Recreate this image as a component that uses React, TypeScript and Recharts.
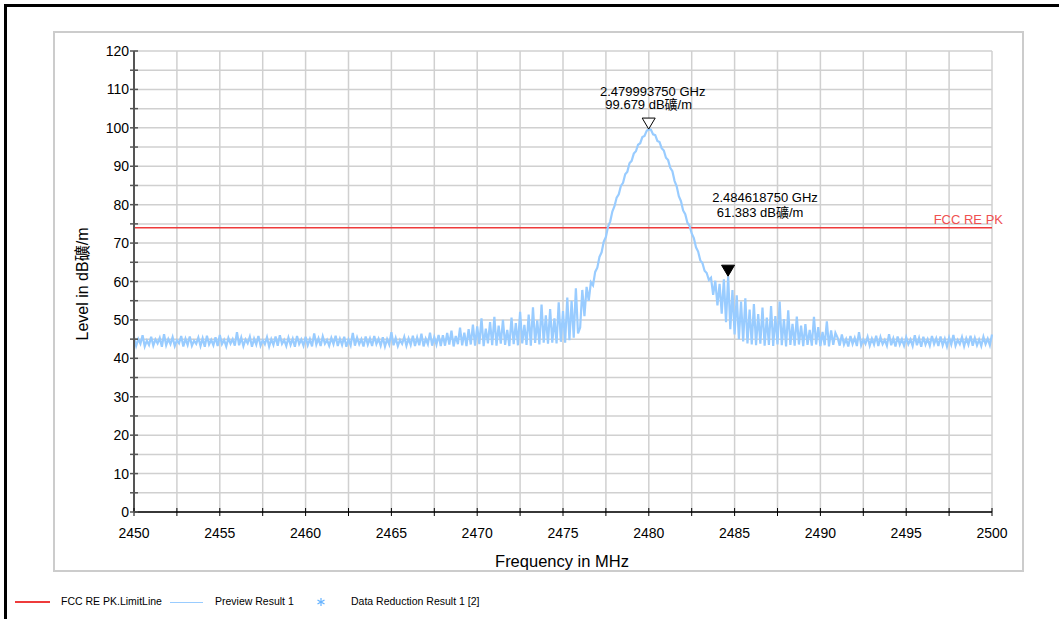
import { LineChart, Line, XAxis, YAxis, CartesianGrid, ReferenceLine, ReferenceDot } from "recharts";

const FONT = '"Liberation Sans", Arial, "Noto Sans CJK SC", sans-serif';

// frequency grid of the trace (MHz)
const freqStart = 2450;
const freqStep = 0.125;

// trace level in dBµV/m
const baseLeft = [
  45.4, 43.2, 45.0, 43.8, 46.0, 43.1, 44.6, 43.5, 45.6, 43.3, 44.9, 43.9, 45.3, 43.0, 46.3, 43.4,
  45.0, 43.7, 45.5, 43.2, 44.7, 43.9, 45.8, 43.1, 45.1, 43.5, 45.7, 43.3, 44.6, 43.8, 45.4, 43.2,
  45.2, 43.0, 45.9, 43.6, 44.8, 43.4, 45.5, 43.2, 46.1, 43.7, 44.8, 43.1, 45.3, 43.8, 45.0, 43.3,
  46.8, 43.4, 45.4, 43.2, 44.9, 43.9, 45.6, 43.0, 45.1, 43.6, 45.8, 43.3, 44.7, 43.7, 45.5, 43.1,
  45.0, 43.5, 45.7, 43.3, 46.0, 43.8, 44.8, 43.2, 45.4, 43.5, 45.1, 43.0, 45.8, 43.7, 44.9, 43.3,
  45.6, 43.4, 45.0, 43.1, 46.5, 43.6, 45.2, 43.2, 45.7, 43.8, 44.8, 43.3, 45.3, 43.7, 45.9, 43.2,
  45.1, 43.5, 45.6, 43.0, 44.9, 43.4, 46.6, 43.3, 45.4, 43.7, 45.0, 43.1, 45.7, 43.6, 45.2, 43.2,
  45.8, 43.7, 45.1, 43.3, 45.5, 43.1, 45.0, 43.6, 46.8, 43.4, 45.3, 43.2, 44.8, 43.8, 45.6, 43.3,
  45.2, 43.5, 45.9, 43.2, 45.4, 43.4, 46.4, 43.1, 45.1, 43.7, 46.7, 43.3, 45.5, 43.6, 46.1, 43.2,
];
const shoulderLeft = [
  46.0, 43.3, 46.6, 43.6, 47.2, 43.1, 45.8, 43.7, 48.0, 43.4, 46.7, 43.2, 47.6, 43.6, 48.8, 43.3,
  48.3, 43.7, 50.4, 43.2, 47.7, 43.9, 49.4, 43.4, 50.8, 43.3, 48.5, 43.8, 50.0, 43.5, 47.4, 43.2,
  50.6, 43.7, 49.2, 43.4, 52.1, 43.9, 48.7, 43.5, 51.4, 43.3, 53.3, 44.0, 49.9, 43.6, 54.0, 44.1,
  51.2, 43.8, 52.8, 44.1, 50.4, 43.9, 54.6, 44.3, 52.3, 44.1, 55.8, 44.7, 55.0, 45.4, 58.2, 46.5,
];
const mainLobe = [
  48.0, 57.8, 51.0, 58.6, 55.0, 59.8, 59.0, 62.5, 63.6, 66.4, 67.6, 70.4, 71.6, 74.3, 75.6, 78.2,
  79.6, 81.8, 82.7, 84.9, 85.7, 87.9, 88.6, 90.8, 91.4, 93.3, 93.9, 95.6, 96.0, 97.6, 97.9, 99.2,
  99.68, 99.5, 98.3, 98.1, 96.6, 96.3, 94.7, 94.1, 92.2, 91.6, 89.6, 88.7, 86.2, 84.8, 82.2, 80.9,
  78.5, 77.5, 75.3, 74.5, 72.5, 71.3, 68.9, 67.8, 65.5, 64.8, 62.8, 62.2, 60.4, 61.0, 56.5, 60.2,
  53.8, 59.4, 51.6, 60.6, 49.4, 61.38, 47.6, 57.8,
];
const shoulderRight = [
  46.2, 56.4, 45.0, 54.8, 44.4, 55.6, 43.9, 52.7, 43.6, 54.1, 43.4, 51.5, 43.8, 53.2, 43.3, 50.6,
  43.5, 53.6, 43.2, 51.0, 43.6, 54.8, 43.4, 50.2, 43.1, 52.5, 43.5, 49.0, 43.3, 50.9, 43.6, 48.5,
  43.2, 48.9, 43.5, 47.4, 43.3, 50.8, 43.6, 48.1, 43.2, 46.9, 43.4, 49.6, 43.1, 47.3, 43.5, 46.6,
];
const baseRight = [
  45.4, 43.3, 46.2, 43.6, 45.0, 43.1, 45.8, 43.7, 45.3, 43.2, 46.8, 43.4, 44.9, 43.8, 45.6, 43.3,
  45.1, 43.6, 45.9, 43.2, 45.5, 43.7, 44.8, 43.3, 46.3, 43.4, 45.2, 43.1, 45.7, 43.6, 45.0, 43.3,
  45.5, 43.7, 44.9, 43.2, 46.0, 43.4, 45.3, 43.0, 45.6, 43.6, 45.0, 43.3, 45.8, 43.7, 45.2, 43.2,
  45.7, 43.4, 45.1, 43.1, 45.4, 43.6, 46.1, 43.3, 44.8, 43.7, 45.5, 43.2, 45.2, 43.6, 45.9, 43.3,
  45.3, 43.4, 44.9, 43.2, 45.6, 43.7, 45.1, 43.4, 46.2,
];

const limitLevel = 74;
const limitName = "FCC RE PK";

const markerFreqs = [2479.99375, 2484.61875];
const markerLevels = [99.679, 61.383];
const markerFreqText = ["2.479993750 GHz", "2.484618750 GHz"];
const markerLevelText = ["99.679 dB礦/m", "61.383 dB礦/m"];

const xTicks = [2450, 2452.5, 2455, 2457.5, 2460, 2462.5, 2465, 2467.5, 2470, 2472.5, 2475, 2477.5,
  2480, 2482.5, 2485, 2487.5, 2490, 2492.5, 2495, 2497.5, 2500];
const yTicks = [0, 5, 10, 15, 20, 25, 30, 35, 40, 45, 50, 55, 60, 65, 70, 75, 80, 85, 90, 95, 100, 105, 110, 115, 120];

const level = [...baseLeft, ...shoulderLeft, ...mainLobe, ...shoulderRight, ...baseRight];
const data = level.map((v, i) => ({ freq: freqStart + i * freqStep, level: v }));

const PLOT_LEFT = 134;
const PLOT_BOTTOM = 512;

const XTick = (props: any) => {
  const { x, payload } = props;
  const v = payload.value;
  return (
    <g>
      <line x1={x} x2={x} y1={PLOT_BOTTOM - 4} y2={PLOT_BOTTOM + 4} stroke="#000" />
      {v % 5 === 0 && (
        <text x={x} y={538} textAnchor="middle" fontSize={14} fontFamily={FONT} fill="#000">{v}</text>
      )}
    </g>
  );
};

const YTick = (props: any) => {
  const { y, payload } = props;
  const v = payload.value;
  return (
    <g>
      <line x1={PLOT_LEFT - 4} x2={PLOT_LEFT + 4} y1={y} y2={y} stroke="#555" strokeWidth={1.5} />
      {v % 10 === 0 && (
        <text x={129} y={y + 5} textAnchor="end" fontSize={14} fontFamily={FONT} fill="#000">{v}</text>
      )}
    </g>
  );
};

// per-marker text offsets from the triangle tip
const markerStyle = [
  { filled: false, dx1: 4, dy1: -33, dx2: 0, dy2: -20 },
  { filled: true, dx1: 37, dy1: -74, dx2: 32, dy2: -59 },
];

const markerShape = (i: number) => (props: any) => {
  const { cx, cy } = props;
  const s = markerStyle[i];
  return (
    <g>
      <polygon
        points={`${cx - 6.5},${cy - 11} ${cx + 6.5},${cy - 11} ${cx},${cy}`}
        fill={s.filled ? "#000" : "#fff"}
        stroke="#000"
        strokeWidth={1}
      />
      <text x={cx + s.dx1} y={cy + s.dy1} textAnchor="middle" fontSize={13} fontFamily={FONT} fill="#000">
        {markerFreqText[i]}
      </text>
      <text x={cx + s.dx2} y={cy + s.dy2} textAnchor="middle" fontSize={13} fontFamily={FONT} fill="#000">
        {markerLevelText[i]}
      </text>
    </g>
  );
};

const LimitLabel = (props: any) => {
  const { viewBox } = props;
  return (
    <text x={viewBox.x + viewBox.width + 11} y={viewBox.y - 4} textAnchor="end" fontSize={13} fontFamily={FONT} fill="#f05050">
      {limitName}
    </text>
  );
};

export default function App() {
  return (
    <div style={{ position: "absolute", left: 0, top: 0, width: 1059, height: 619, background: "#fff", fontFamily: FONT, overflow: "hidden" }}>
      {/* outer frame */}
      <div style={{ position: "absolute", left: 4, top: 4, width: 1055, height: 3, background: "#000" }} />
      <div style={{ position: "absolute", left: 4, top: 4, width: 3, height: 615, background: "#000" }} />
      {/* chart panel */}
      <div style={{ position: "absolute", left: 53, top: 31, width: 967, height: 537, border: "2px solid #cccccc", boxSizing: "content-box" }} />

      <div style={{ position: "absolute", left: 0, top: 0 }}>
        <LineChart width={1059} height={619} data={data} margin={{ top: 51, right: 67, bottom: 77, left: 74 }}>
          <CartesianGrid stroke="#d0d0d0" strokeWidth={1.5} />
          <XAxis
            dataKey="freq"
            type="number"
            domain={[2450, 2500]}
            ticks={xTicks}
            interval={0}
            height={30}
            axisLine={{ stroke: "#000", strokeWidth: 1.5 }}
            tickLine={false}
            tick={<XTick />}
          />
          <YAxis
            type="number"
            domain={[0, 120]}
            ticks={yTicks}
            interval={0}
            width={60}
            axisLine={{ stroke: "#555", strokeWidth: 2 }}
            tickLine={false}
            tick={<YTick />}
          />
          <ReferenceLine y={limitLevel} stroke="#ee3b3b" strokeWidth={1.5} label={<LimitLabel />} />
          <Line
            type="linear"
            dataKey="level"
            stroke="#99ccff"
            strokeWidth={2.2}
            dot={false}
            isAnimationActive={false}
          />
          {markerFreqs.map((f, i) => (
            <ReferenceDot key={i} x={f} y={markerLevels[i]} r={0} shape={markerShape(i)} />
          ))}
          <text x={88} y={284} transform="rotate(-90, 88, 284)" textAnchor="middle" fontSize={16} fontFamily={FONT} fill="#000">
            Level in dB礦/m
          </text>
          <text x={562} y={567} textAnchor="middle" fontSize={16.5} fontFamily={FONT} fill="#000">
            Frequency in MHz
          </text>
        </LineChart>
      </div>

      {/* legend */}
      <div style={{ position: "absolute", left: 15, top: 601, width: 35, height: 2, background: "#ee3b3b" }} />
      <div style={{ position: "absolute", left: 61, top: 595, fontSize: 10.5 }}>FCC RE PK.LimitLine</div>
      <div style={{ position: "absolute", left: 170, top: 602, width: 33, height: 1, background: "#99ccff" }} />
      <div style={{ position: "absolute", left: 215, top: 595, fontSize: 10.5 }}>Preview Result 1</div>
      <svg style={{ position: "absolute", left: 316, top: 597 }} width={10} height={10}>
        <g stroke="#66b3ff" strokeWidth={1.2}>
          <line x1={5} y1={1} x2={5} y2={9} />
          <line x1={1.5} y1={3} x2={8.5} y2={7} />
          <line x1={1.5} y1={7} x2={8.5} y2={3} />
        </g>
      </svg>
      <div style={{ position: "absolute", left: 351, top: 595, fontSize: 10.5 }}>Data Reduction Result 1 [2]</div>
    </div>
  );
}
